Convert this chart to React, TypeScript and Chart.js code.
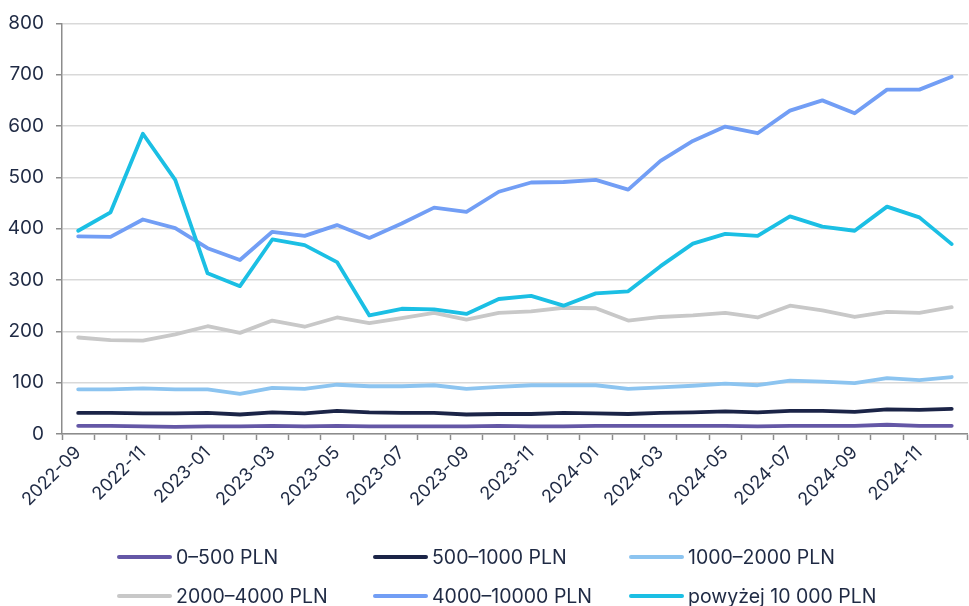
import React, { useEffect, useRef } from "react";
import { Chart, registerables } from "chart.js";

Chart.register(...registerables);

const months: string[] = [
  "2022-09", "2022-10", "2022-11", "2022-12",
  "2023-01", "2023-02", "2023-03", "2023-04", "2023-05", "2023-06",
  "2023-07", "2023-08", "2023-09", "2023-10", "2023-11", "2023-12",
  "2024-01", "2024-02", "2024-03", "2024-04", "2024-05", "2024-06",
  "2024-07", "2024-08", "2024-09", "2024-10", "2024-11", "2024-12",
];

const seriesNames: string[] = [
  "0–500 PLN",
  "500–1000 PLN",
  "1000–2000 PLN",
  "2000–4000 PLN",
  "4000–10000 PLN",
  "powyżej 10 000 PLN",
];

const s0_500: number[] = [16, 16, 15, 14, 15, 15, 16, 15, 16, 15, 15, 15, 15, 16, 15, 15, 16, 16, 16, 16, 16, 15, 16, 16, 16, 18, 16, 16];
const s500_1000: number[] = [41, 41, 40, 40, 41, 38, 42, 40, 45, 42, 41, 41, 38, 39, 39, 41, 40, 39, 41, 42, 44, 42, 45, 45, 43, 48, 47, 49];
const s1000_2000: number[] = [87, 87, 89, 87, 87, 78, 90, 88, 96, 93, 93, 95, 88, 92, 95, 95, 95, 88, 91, 94, 98, 95, 104, 102, 99, 109, 105, 111];
const s2000_4000: number[] = [188, 183, 182, 194, 210, 197, 221, 209, 227, 216, 226, 236, 223, 236, 239, 246, 245, 221, 228, 231, 236, 227, 250, 241, 228, 238, 236, 247];
const s4000_10000: number[] = [385, 384, 418, 401, 362, 339, 394, 386, 407, 382, 410, 441, 433, 472, 490, 491, 495, 476, 532, 571, 599, 586, 630, 650, 625, 671, 671, 696];
const sOver10000: number[] = [396, 432, 585, 495, 313, 288, 379, 368, 335, 231, 244, 243, 234, 263, 269, 250, 274, 278, 327, 371, 390, 386, 424, 404, 396, 443, 422, 370];

const seriesValues: number[][] = [s0_500, s500_1000, s1000_2000, s2000_4000, s4000_10000, sOver10000];
const seriesColors: string[] = ["#6457a6", "#1b2447", "#8cc4f0", "#c8c8c8", "#729ef5", "#1bbfe4"];

const yTicks: number[] = [0, 100, 200, 300, 400, 500, 600, 700, 800];

const FONT = "Inter, 'Liberation Sans', sans-serif";
const TEXT = "#1f2a44";

export default function App() {
  const ref = useRef<HTMLCanvasElement | null>(null);

  useEffect(() => {
    if (!ref.current) return;
    const chart = new Chart(ref.current, {
      type: "line",
      data: {
        labels: months,
        datasets: seriesValues.map((vals, i) => ({
          label: seriesNames[i],
          data: vals,
          borderColor: seriesColors[i],
          backgroundColor: seriesColors[i],
          borderWidth: 3.8,
          pointRadius: 0,
          tension: 0,
          fill: false,
          order: seriesValues.length - i,
          borderCapStyle: "round" as const,
          borderJoinStyle: "round" as const,
        })),
      },
      options: {
        animation: false,
        responsive: false,
        maintainAspectRatio: false,
        layout: { padding: { top: 22, right: 0, bottom: 0, left: 0 } },
        plugins: {
          legend: { display: false },
          tooltip: { enabled: false },
        },
        scales: {
          x: {
            type: "category",
            offset: true,
            grid: {
              offset: true,
              drawOnChartArea: false,
              drawTicks: true,
              tickLength: 6,
              tickColor: "#8c8c8c",
              tickWidth: 1.5,
            },
            border: { display: true, color: "#8c8c8c", width: 1.5 },
            ticks: {
              autoSkip: false,
              maxRotation: 45,
              minRotation: 45,
              color: TEXT,
              font: { family: FONT, size: 18 },
              padding: 2,
              callback: (_v: any, i: number) => (i % 2 === 0 ? months[i] : ""),
            },
            afterFit: (scale: any) => {
              scale.height = 172;
            },
          },
          y: {
            min: 0,
            max: 800,
            afterBuildTicks: (scale: any) => {
              scale.ticks = yTicks.map((v) => ({ value: v }));
            },
            grid: {
              color: "#d9d9d9",
              lineWidth: 1.5,
              drawTicks: true,
              tickLength: 6,
              tickColor: "#8c8c8c",
            },
            border: { display: true, color: "#8c8c8c", width: 1.5 },
            ticks: {
              color: TEXT,
              font: { family: FONT, size: 19 },
              padding: 12,
            },
            afterFit: (scale: any) => {
              scale.width = 62;
            },
          },
        },
      },
    });
    return () => chart.destroy();
  }, []);

  const colX = [117, 373, 629];
  const rowY = [557, 596];

  return (
    <div style={{ position: "fixed", left: 0, top: 0, width: 969, height: 606, background: "#fff", overflow: "hidden" }}>
      <canvas ref={ref} width={969} height={606} style={{ position: "absolute", left: 0, top: 0, width: 969, height: 606 }} />
      {seriesNames.map((name, i) => {
        const c = i % 3;
        const r = Math.floor(i / 3);
        return (
          <div
            key={name}
            style={{
              position: "absolute",
              left: colX[c],
              top: rowY[r] - 13,
              height: 26,
              display: "flex",
              alignItems: "center",
              fontFamily: FONT,
              fontSize: 19.5,
              color: TEXT,
              whiteSpace: "nowrap",
            }}
          >
            <span style={{ display: "inline-block", width: 55, height: 4, borderRadius: 2, background: seriesColors[i], marginRight: 4 }} />
            <span>{name}</span>
          </div>
        );
      })}
    </div>
  );
}
